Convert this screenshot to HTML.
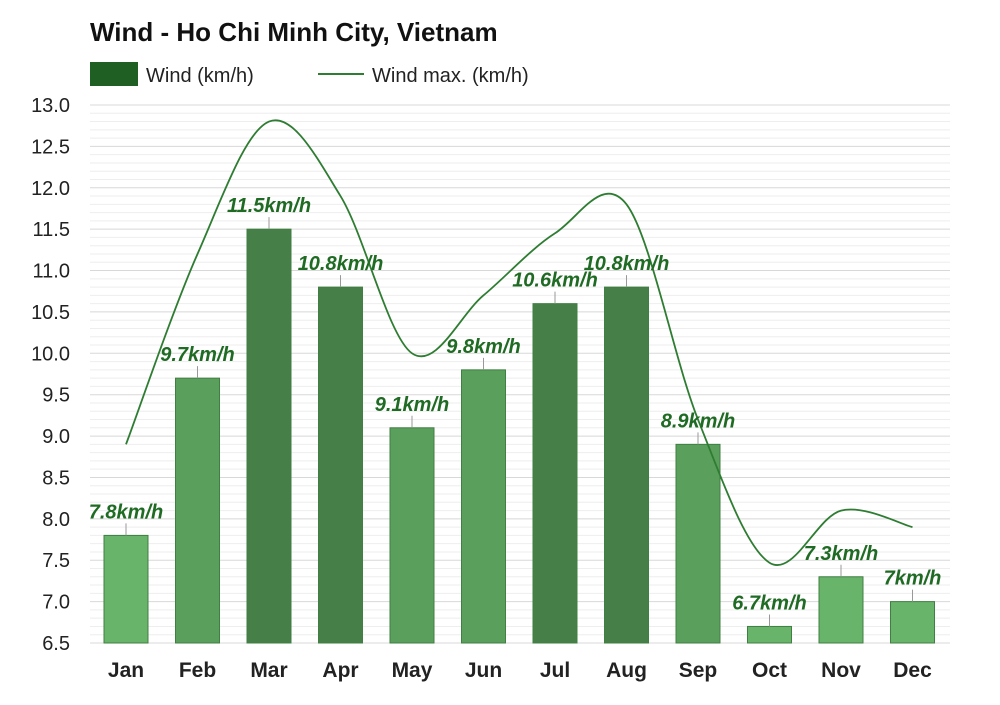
<!DOCTYPE html>
<html><head><meta charset="utf-8"><style>
body{margin:0;background:#fff;font-family:"Liberation Sans",Arial,sans-serif}
svg text{font-family:"Liberation Sans",Arial,sans-serif}
</style></head><body>
<svg id="c" width="1000" height="700" xmlns="http://www.w3.org/2000/svg">
<text x="90" y="41" font-size="26" font-weight="bold" fill="#111">Wind - Ho Chi Minh City, Vietnam</text>
<g>
<rect x="90" y="62" width="48" height="24" fill="#1f5f24"/>
<text x="146" y="82" font-size="20" fill="#222">Wind (km/h)</text>
<line x1="318" y1="74" x2="364" y2="74" stroke="#2e7d32" stroke-width="2"/>
<text x="372" y="82" font-size="20" fill="#222">Wind max. (km/h)</text>
</g>
<g id="grid"></g><g id="bars"></g><g id="line"></g><g id="labels"></g>
</svg>
<script>
const months=["Jan","Feb","Mar","Apr","May","Jun","Jul","Aug","Sep","Oct","Nov","Dec"];
const wind=[7.8,9.7,11.5,10.8,9.1,9.8,10.6,10.8,8.9,6.7,7.3,7.0];
const windMax=[8.9,11.2,12.8,11.9,10.0,10.7,11.45,11.8,9.2,7.47,8.1,7.9];
const valueLabels=["7.8km/h","9.7km/h","11.5km/h","10.8km/h","9.1km/h","9.8km/h","10.6km/h","10.8km/h","8.9km/h","6.7km/h","7.3km/h","7km/h"];
const yTicks=[6.5,7.0,7.5,8.0,8.5,9.0,9.5,10.0,10.5,11.0,11.5,12.0,12.5,13.0];
const NS="http://www.w3.org/2000/svg";
const L=90,R=950,T=105,B=643,ymin=6.5,ymax=13;
const y=v=>B-(v-ymin)/(ymax-ymin)*(B-T);
const step=(R-L+5)/12;
const x=i=>126+i*71.5;
function mk(tag,at,parent){const e=document.createElementNS(NS,tag);for(const k in at)e.setAttribute(k,at[k]);document.getElementById(parent).appendChild(e);return e;}
for(let v=65;v<=130;v++){
  const major=v%5===0;
  const g=mk("line",{x1:L,x2:R,y1:y(v/10),y2:y(v/10),stroke:major?"#d8d8d8":"#eeeeee","stroke-width":1},"grid");
  
  
}
yTicks.forEach(t=>{
  const tx=mk("text",{x:70,y:y(t)+7,"font-size":20,fill:"#222","text-anchor":"end"},"grid");
  tx.textContent=t.toFixed(1);
  
  
});
months.forEach((m,i)=>{
  const v=wind[i];
  const col=v<8.5?"#68b46a":(v<10.5?"#5b9f5d":"#467f48");
  const b=mk("rect",{x:x(i)-22,y:y(v),width:44,height:B-y(v),fill:col,stroke:"#3f7f42","stroke-width":1},"bars");
  
  
  const ld=mk("line",{x1:x(i),x2:x(i),y1:y(v)-12,y2:y(v),stroke:"#999","stroke-width":1},"labels");
  
  
  const t=mk("text",{x:x(i),y:y(v)-17,"font-size":20,"font-weight":"bold","font-style":"italic",fill:"#1f6b24","text-anchor":"middle"},"labels");
  t.textContent=valueLabels[i];
  
  
  const xl=mk("text",{x:x(i),y:677,"font-size":21,"font-weight":"bold",fill:"#222","text-anchor":"middle"},"labels");
  xl.textContent=m;
  
  
});
const pts=windMax.map((v,i)=>[x(i),y(v)]);
let d="M"+pts[0][0]+","+pts[0][1];
for(let i=0;i<pts.length-1;i++){
  const p0=pts[i-1]||pts[i],p1=pts[i],p2=pts[i+1],p3=pts[i+2]||p2;
  const c1=[p1[0]+(p2[0]-p0[0])/6,p1[1]+(p2[1]-p0[1])/6];
  const c2=[p2[0]-(p3[0]-p1[0])/6,p2[1]-(p3[1]-p1[1])/6];
  d+=` C${c1[0]},${c1[1]} ${c2[0]},${c2[1]} ${p2[0]},${p2[1]}`;
}
const ln=mk("path",{d:d,fill:"none",stroke:"#2e7d32","stroke-width":1.8},"line");


</script>
</body></html>
